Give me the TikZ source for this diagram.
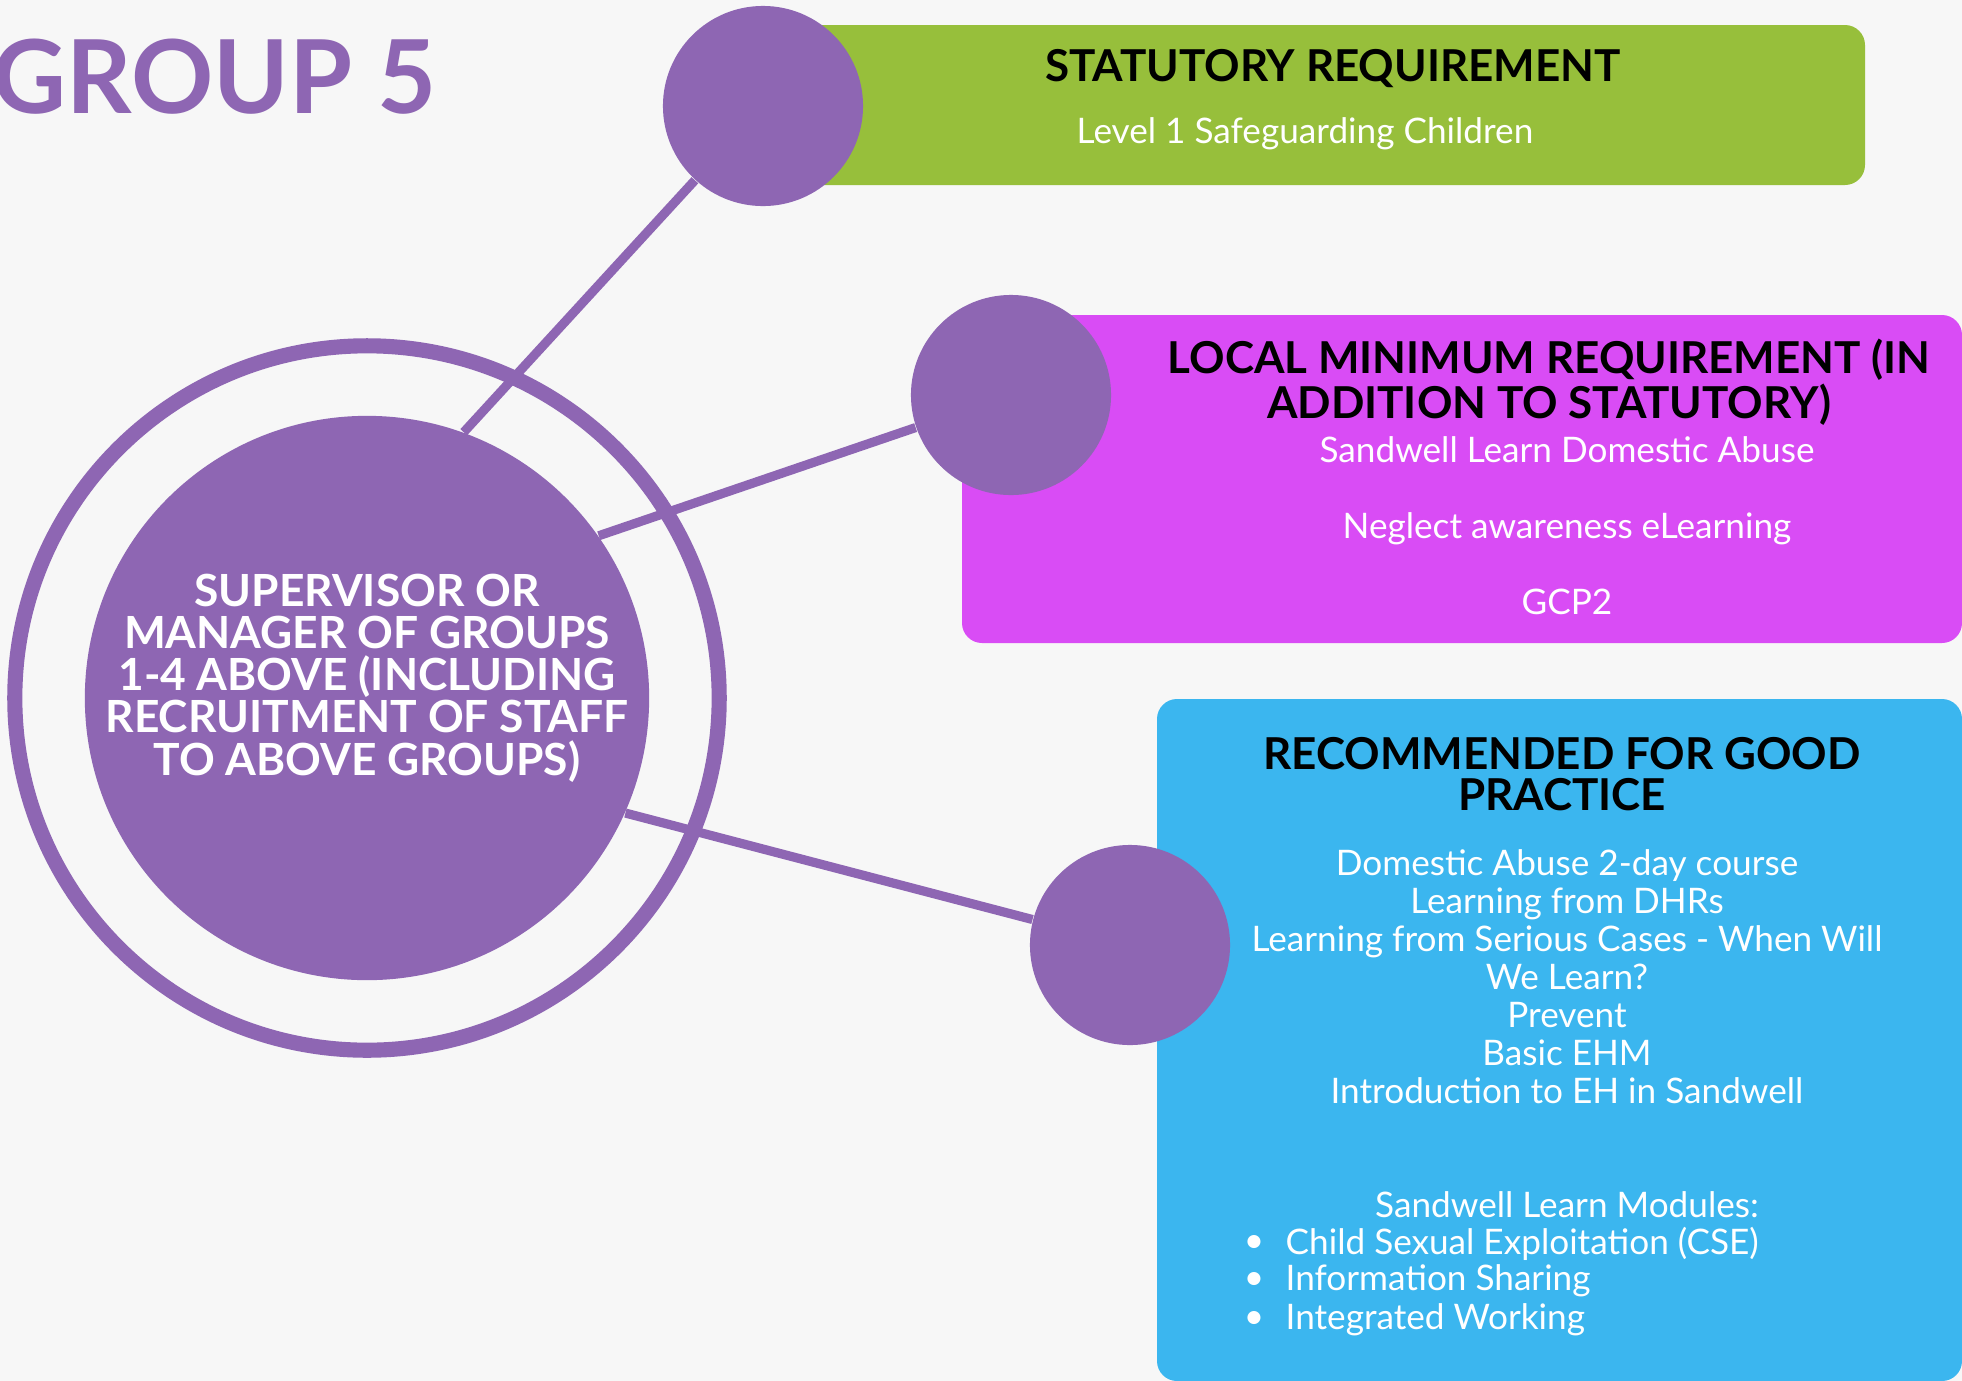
\documentclass[tikz,border=0pt]{standalone}
\usepackage{fontspec}
\setmainfont{Lato}
\definecolor{grp}{HTML}{8E66B3}
\definecolor{statgreen}{HTML}{97BF3B}
\definecolor{localpink}{HTML}{D94CF5}
\definecolor{goodblue}{HTML}{3BB6EF}
\definecolor{paper}{HTML}{F7F7F7}
\tikzset{
  dot/.style={circle,fill=grp,minimum size=2cm,inner sep=0pt},
  link/.style={grp,line width=2.6pt},
  head/.style={font=\bfseries\fontsize{12.5}{11.7}\selectfont,align=center,inner sep=0pt},
  body/.style={text=white,font=\fontsize{10}{10.8}\selectfont,align=center,inner sep=0pt}
}
\begin{document}
\begin{tikzpicture}[x=0.01cm,y=-0.01cm]
\fill[paper] (0,0) rectangle (1962,1381);
\useasboundingbox (0,0) rectangle (1962,1381);

\coordinate (c) at (367,698);
\coordinate (1) at (763,106);
\coordinate (2) at (1011,395);
\coordinate (3) at (1130,945);

\fill[statgreen,rounded corners=0.2cm] (763,25) rectangle (1865,185);
\fill[localpink,rounded corners=0.2cm] (962,315) rectangle (1962,643);
\fill[goodblue,rounded corners=0.2cm] (1157,699) rectangle (1962,1381);

\node[circle,draw=grp,line width=4.3pt,minimum size=7.04cm,inner sep=0pt] (ring) at (c) {};
\node[circle,fill=grp,minimum size=5.64cm,inner sep=0pt] (super) at (c) {};
\node[dot] (statdot) at (1) {};
\node[dot] (localdot) at (2) {};
\node[dot] (gooddot) at (3) {};

\draw[link] (super.70)--(statdot);
\draw[link] (super.35)--(localdot);
\draw[link] (super.-24)--(gooddot);

\node[anchor=base west,inner sep=0pt,text=grp,font=\bfseries\fontsize{29}{29}\selectfont] (title) at (-8,113) {GROUP 5};
\node[text=white,font=\bfseries\fontsize{12.6}{12}\selectfont,align=center,inner sep=0pt] (supertext) at (367,678)
  {SUPERVISOR OR\\MANAGER OF GROUPS\\1-4 ABOVE (INCLUDING\\RECRUITMENT OF STAFF\\TO ABOVE GROUPS)};

\node[head] (stathead) at (1333,69) {STATUTORY REQUIREMENT};
\node[body] (stattext) at (1305,134) {Level 1 Safeguarding Children};

\node[head] (localhead) at (1549,382) {LOCAL MINIMUM REQUIREMENT (IN\\ADDITION TO STATUTORY)};
\node[body] (localtext) at (1567,526) {Sandwell Learn Domestic Abuse\\[10.8pt]Neglect awareness eLearning\\[10.8pt]GCP2};

\node[head] (goodhead) at (1562,774) {RECOMMENDED FOR GOOD\\PRACTICE};
\node[body] (goodtext) at (1567,977) {Domestic Abuse 2-day course\\Learning from DHRs\\Learning from Serious Cases - When Will\\We Learn?\\Prevent\\Basic EHM\\Introduction to EH in Sandwell};
\node[body] (modhead) at (1567,1205) {Sandwell Learn Modules:};
\foreach \y/\t in {1244/Child Sexual Exploitation (CSE),1281/Information Sharing,1320/Integrated Working}{
  \node[body,anchor=west] (mod\y) at (1285,\y) {\t};
  \node[body] (bullet\y) at (1254,\y) {\textbullet};
}
\end{tikzpicture}
\end{document}
